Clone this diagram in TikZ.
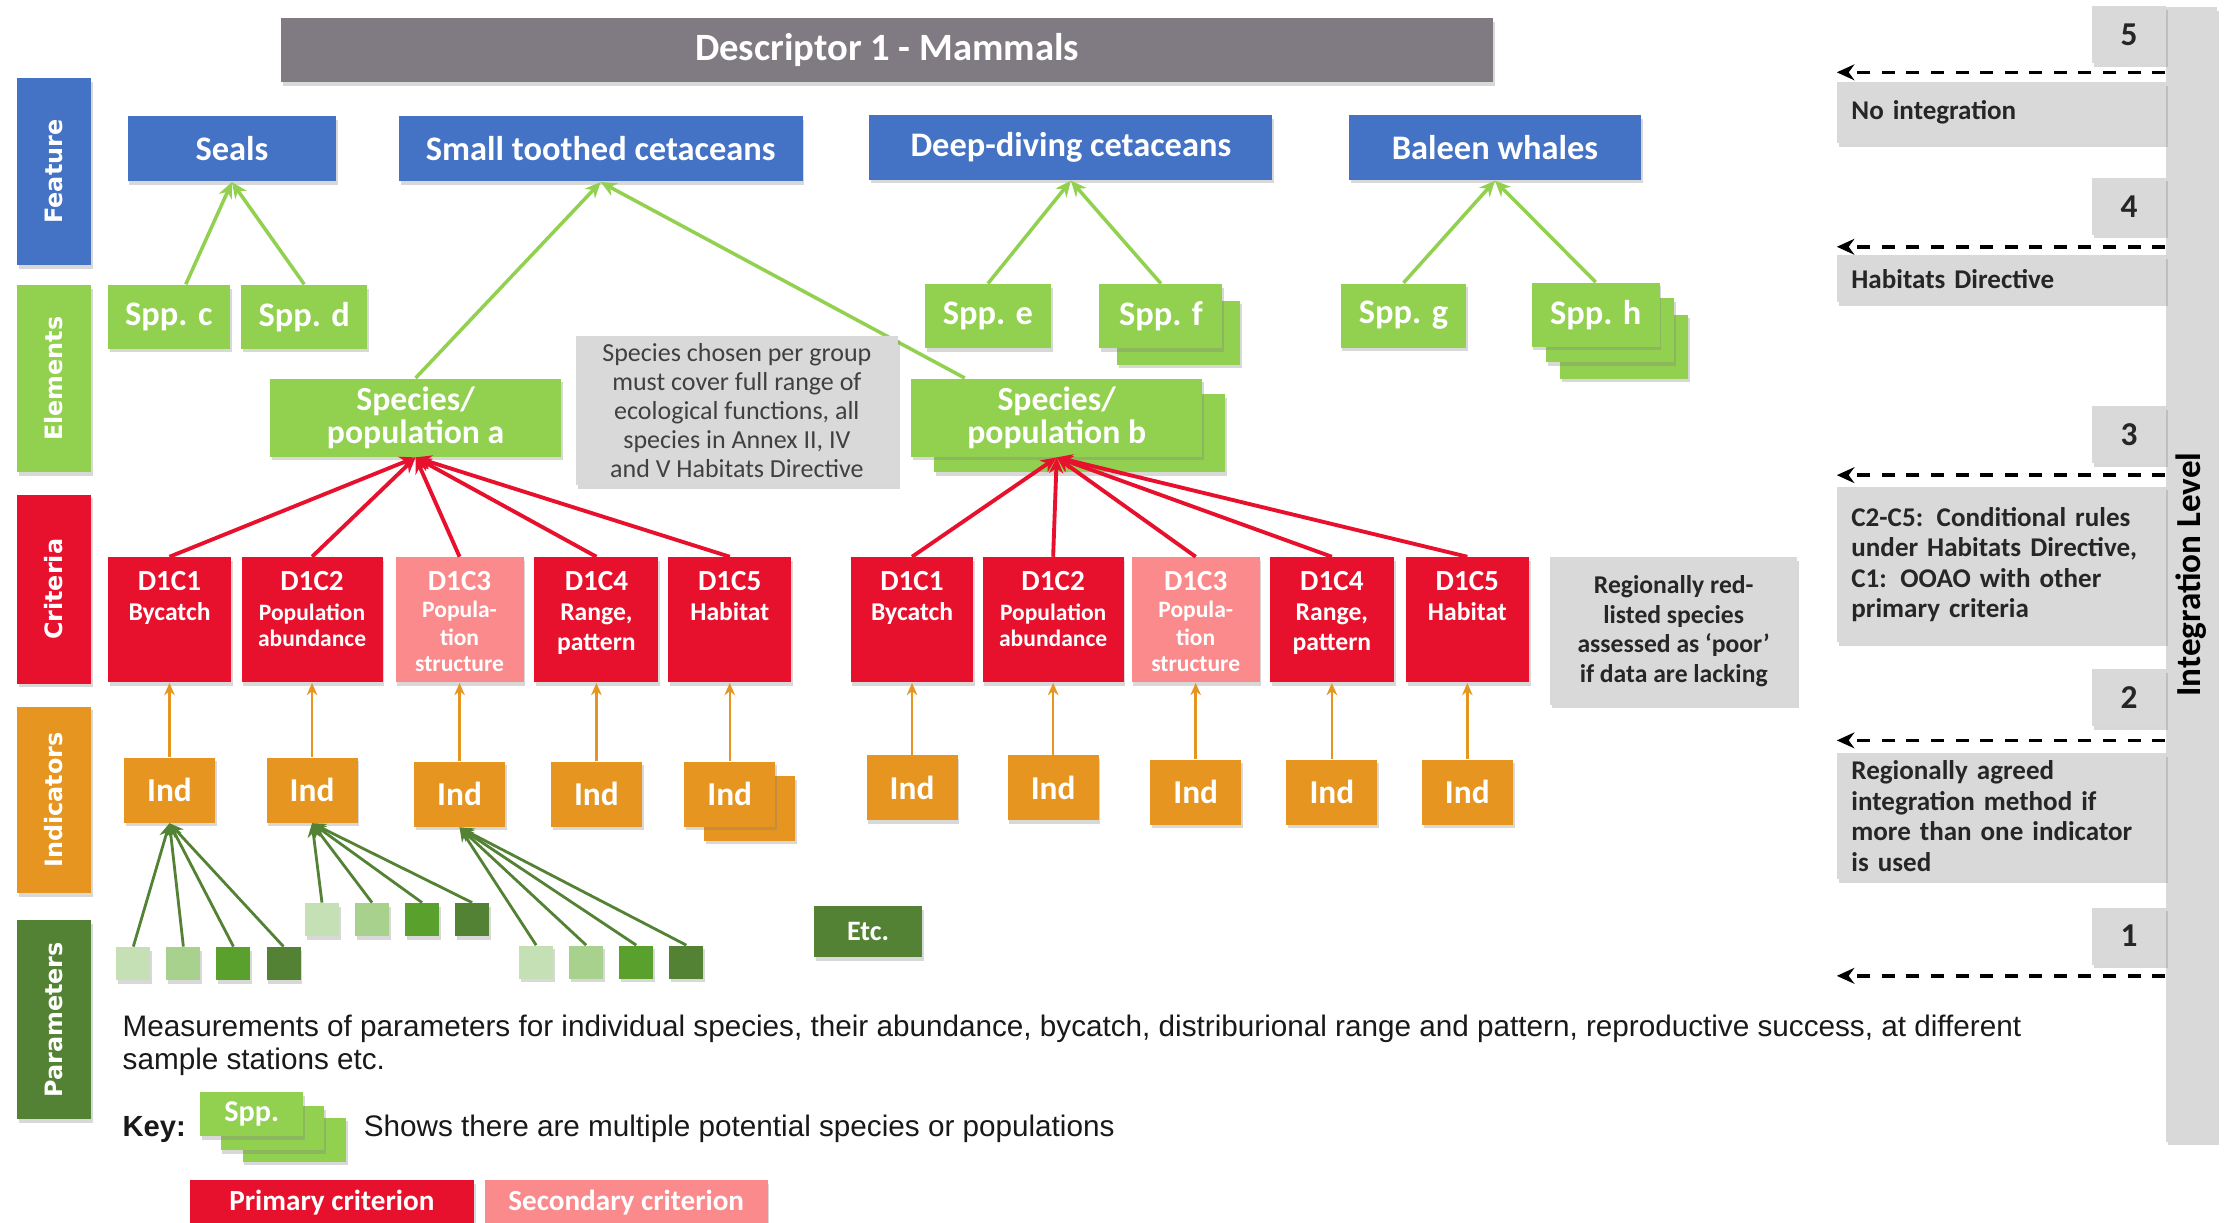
\documentclass[tikz,border=0pt]{standalone}
\usepackage{fontspec}
\setmainfont{Carlito}
\newfontfamily\arialfont{Liberation Sans}
\newfontfamily\verdfont{DejaVu Sans}
\usepackage{graphicx}
\usepackage{tikz}
\usetikzlibrary{arrows.meta,shadows}

\definecolor{featblue}{RGB}{68,114,196}
\definecolor{elemgreen}{RGB}{146,208,80}
\definecolor{critred}{RGB}{232,17,45}
\definecolor{critpink}{RGB}{250,138,140}
\definecolor{indorange}{RGB}{229,149,32}
\definecolor{pardark}{RGB}{84,130,53}
\definecolor{parmid}{RGB}{90,160,44}
\definecolor{parlight}{RGB}{169,209,142}
\definecolor{parpale}{RGB}{197,224,180}
\definecolor{hdrgray}{RGB}{128,123,130}
\definecolor{boxgray}{RGB}{217,217,217}
\definecolor{txtgray}{RGB}{38,38,38}

\newcommand{\fsz}[2]{\fontsize{#1}{#2}\selectfont}
\newcommand{\cdesc}{\fsz{7.3}{8.6}}
\newcommand{\csmall}{\fsz{6.7}{7.9}}

\tikzset{
  box/.style={inner sep=0pt, text=white,
    drop shadow={shadow xshift=0.5pt, shadow yshift=-1pt, opacity=0.3}},
  hdr/.style={box, fill=hdrgray, minimum height=0.64cm, font=\bfseries\fsz{11}{13}},
  sidelab/.style={box, minimum width=0.74cm, font=\verdfont\bfseries\fsz{6.8}{8}},
  feat/.style={box, fill=featblue, minimum height=0.65cm, font=\bfseries\fsz{9.8}{11}},
  elem/.style={box, fill=elemgreen, minimum height=0.64cm, font=\bfseries\fsz{9.8}{11}},
  pop/.style={elem, minimum width=2.91cm, minimum height=0.78cm, align=center, font=\bfseries\fsz{9.6}{9.6}},
  crit/.style={box, fill=critred, minimum height=1.248cm},
  crittxt/.style={anchor=north, align=center, inner xsep=0pt, inner ysep=4pt, text=white, font=\bfseries\fsz{8.3}{9}},
  indbox/.style={box, fill=indorange, minimum width=0.91cm, minimum height=0.65cm, font=\bfseries\fsz{9.5}{11}},
  parbox/.style={box, minimum width=0.34cm, minimum height=0.33cm},
  note/.style={box, fill=boxgray, align=center},
  lvlnum/.style={box, fill=boxgray, text=txtgray, minimum width=0.74cm, minimum height=0.57cm, font=\bfseries\fsz{9.5}{11}},
  lvltxt/.style={box, fill=boxgray, text=txtgray, text width=3.0cm, inner xsep=0.145cm, align=left, font=\bfseries\fsz{7.7}{8.7}},
  featline/.style={elemgreen, line width=1pt, -{Stealth[length=4.5pt,width=4pt]}},
  critline/.style={critred, line width=1.1pt, -{Stealth[length=4.5pt,width=4pt]}},
  indline/.style={indorange, line width=0.7pt, -{Stealth[length=3.5pt,width=3pt]}},
  parline/.style={pardark, line width=0.8pt, -{Stealth[length=4pt,width=3.5pt]}},
  lvlarrow/.style={black, line width=1pt, dash pattern=on 3.7pt off 3.3pt, -{Stealth[length=5pt,width=4.5pt]}},
  bodytxt/.style={inner sep=0pt, font=\arialfont\fsz{8.45}{9.6}, text=black!90}
}

\begin{document}
\begin{tikzpicture}[x=0.014184cm, y=-0.014184cm]
  \path[use as bounding box, fill=white] (0,0) rectangle (1568,862);

  % Header
  \node[hdr, minimum width=12.13cm] (hdr) at (625.5,35.5) {Descriptor 1 - Mammals};

  % Level labels on the left
  \node[sidelab, fill=featblue, minimum height=1.87cm] (labFeat) at (38,121) {\rotatebox{90}{Feature}};
  \node[sidelab, fill=elemgreen, minimum height=1.87cm] (labElem) at (38,267) {\rotatebox{90}{Elements}};
  \node[sidelab, fill=critred, minimum height=1.89cm] (labCrit) at (38,415.5) {\rotatebox{90}{Criteria}};
  \node[sidelab, fill=indorange, minimum height=1.87cm] (labInd) at (38,564) {\rotatebox{90}{Indicators}};
  \node[sidelab, fill=pardark, minimum height=1.99cm] (labPar) at (38,719) {\rotatebox{90}{Parameters}};

  % Feature
  \node[feat, minimum width=2.085cm] (seals) at (163.5,105) {Seals};
  \node[feat, minimum width=4.04cm] (stc) at (423.5,105) {Small toothed cetaceans};
  \node[feat, minimum width=4.03cm] (ddc) at (755,104) {Deep-diving cetaceans};
  \node[feat, minimum width=2.92cm] (baleen) at (1054,104) {Baleen whales};

  % Elements (copies behind first)
  \node[elem, minimum width=1.22cm] (sppc) at (119,223.5) {Spp. c};
  \node[elem, minimum width=1.26cm] (sppd) at (214.5,223.5) {Spp. d};
  \node[elem, minimum width=1.26cm] (sppe) at (696.5,223) {Spp. e};
  \node[elem, minimum width=1.23cm] (sppfB) at (831,234.5) {};
  \node[elem, minimum width=1.23cm] (sppf) at (818.5,223) {Spp. f};
  \node[elem, minimum width=1.26cm] (sppg) at (989.5,222.5) {Spp. g};
  \node[elem, minimum width=1.28cm] (spphC) at (1145,244.5) {};
  \node[elem, minimum width=1.28cm] (spphB) at (1135,233) {};
  \node[elem, minimum width=1.28cm] (spph) at (1125,222) {Spp. h};
  \node[pop] (popa) at (293,294.5) {Species/\\population a};
  \node[pop] (popbB) at (761,305.5) {};
  \node[pop] (popb) at (745,294.5) {Species/\\population b};

  % Elements -> Feature
  \draw[featline] ([xshift=0.17cm]sppc.north) -- (seals.south);
  \draw[featline] (sppd.north) -- (seals.south);
  \draw[featline] (popa.north) -- (stc.south);
  \draw[featline] ([xshift=-0.92cm]popb.north) -- (stc.south);
  \draw[featline] (sppe.north) -- (ddc.south);
  \draw[featline] (sppf.north) -- (ddc.south);
  \draw[featline] (sppg.north) -- (baleen.south);
  \draw[featline] (spph.north) -- (baleen.south);

  % Notes
  \node[note, text=black!75, minimum width=3.22cm, minimum height=1.49cm, font=\fsz{7.4}{8.3}] (noteA) at (519.5,289.5)
    {Species chosen per group\\must cover full range of\\ecological functions, all\\species in Annex II, IV\\and V Habitats Directive};
  \node[note, text=txtgray, minimum width=2.47cm, minimum height=1.475cm, font=\bfseries\fsz{7.3}{8.5}] (noteB) at (1180,445)
    {Regionally red-\\listed species\\assessed as `poor'\\if data are lacking};

  % Criteria and indicators, both groups
  \node[indbox] (ia5B) at (528.5,570) {};
  \foreach \i/\xa/\xb/\w/\cf/\iy/\txt in {
      1/119.5/643/1.23/critred/557/{D1C1\\[-0.4pt]\cdesc Bycatch},
      2/220/742.5/1.41/critred/557/{D1C2\\[-0.6pt]\csmall Population\\[-1.6pt]\csmall abundance},
      3/324/843/1.28/critpink/560/{D1C3\\[-1.3pt]\csmall Popula-\\[-1.2pt]\csmall tion\\[-1.4pt]\csmall structure},
      4/420.5/939/1.24/critred/560/{D1C4\\[-0.4pt]\cdesc Range,\\[-0.5pt]\cdesc pattern},
      5/514.5/1034.5/1.23/critred/560/{D1C5\\[-0.4pt]\cdesc Habitat}}{
    \node[crit, fill=\cf, minimum width=\w cm] (ca\i) at (\xa,437) {};
    \node[crittxt] (ca\i T) at (ca\i.north) {\txt};
    \node[crit, fill=\cf, minimum width=\w cm] (cb\i) at (\xb,437) {};
    \node[crittxt] (cb\i T) at (cb\i.north) {\txt};
    \draw[critline] (ca\i.north) -- (popa.south);
    \draw[critline] (cb\i.north) -- (popb.south);
    \node[indbox] (ia\i) at (\xa,\iy) {Ind};
    \node[indbox] (ib\i) at (\xb,{\iy-1.5}) {Ind};
    \draw[indline] (ia\i.north) -- (ca\i.south);
    \draw[indline] (ib\i.north) -- (cb\i.south);
  }

  % Parameters
  \foreach \g/\xs/\yy/\ind in {a/94/679.5/ia1, b/227/648.5/ia2, c/378/678.5/ia3}{
    \foreach \j/\col in {0/parpale,1/parlight,2/parmid,3/pardark}{
      \node[parbox, fill=\col] (p\g\j) at ({\xs+35.3*\j},\yy) {};
      \draw[parline] (p\g\j.north) -- (\ind.south);
    }
  }
  \node[box, fill=pardark, minimum width=1.08cm, minimum height=0.51cm, font=\bfseries\fsz{8}{10}] (etc) at (612,657) {Etc.};

  % Text and key
  \node[bodytxt, anchor=west, align=left] (meas) at (86,737)
    {Measurements of parameters for individual species, their abundance, bycatch, distriburional range and pattern, reproductive success, at different\\sample stations etc.};
  \node[bodytxt, anchor=west, font=\arialfont\bfseries\fsz{8.3}{9.6}] (key) at (86,796) {Key:};
  \node[elem, minimum width=1.035cm, minimum height=0.44cm] (keyC) at (207.5,803.5) {};
  \node[elem, minimum width=1.035cm, minimum height=0.44cm] (keyB) at (192,795.5) {};
  \node[elem, minimum width=1.035cm, minimum height=0.44cm, font=\bfseries\fsz{8.6}{10}] (keyA) at (177.5,785.5) {Spp.};
  \node[bodytxt, anchor=west] (keytxt) at (256,796) {Shows there are multiple potential species or populations};
  \node[crit, minimum width=2.84cm, minimum height=0.45cm, font=\bfseries\fsz{8.3}{10}] (prim) at (234,848) {Primary criterion};
  \node[crit, fill=critpink, minimum width=2.83cm, minimum height=0.45cm, font=\bfseries\fsz{8.3}{10}] (sec) at (441.5,848) {Secondary criterion};

  % Right side: integration levels
  \node[box, fill=boxgray, text=black, minimum width=0.51cm, minimum height=11.35cm, font=\bfseries\fsz{10}{12}] (bar) at (1545,405) {\rotatebox{90}{Integration Level}};
  \foreach \nm/\yy/\num in {n5/24.5/5, n4/145.5/4, n3/306.5/3, n2/492/2, n1/660/1}
    \node[lvlnum] (\nm) at (1501,\yy) {\num};
  \node[lvltxt, minimum height=0.61cm] (t5) at (1411,79.5) {No integration};
  \node[lvltxt, minimum height=0.47cm] (t4) at (1411,196.5) {Habitats Directive};
  \node[lvltxt, minimum height=1.56cm] (t3) at (1411,398) {C2-C5: Conditional rules\\under Habitats Directive,\\C1: OOAO with other\\primary criteria};
  \node[lvltxt, minimum height=1.26cm] (t2) at (1411,575.5) {Regionally agreed\\integration method if\\more than one indicator\\is used};
  \foreach \nm/\yy in {a5/51, a4/174, a3/335, a2/522, a1/688}{
    \coordinate (\nm) at (1295,\yy);
    \draw[lvlarrow] (bar.west |- \nm) -- (\nm);
  }
\end{tikzpicture}
\end{document}
